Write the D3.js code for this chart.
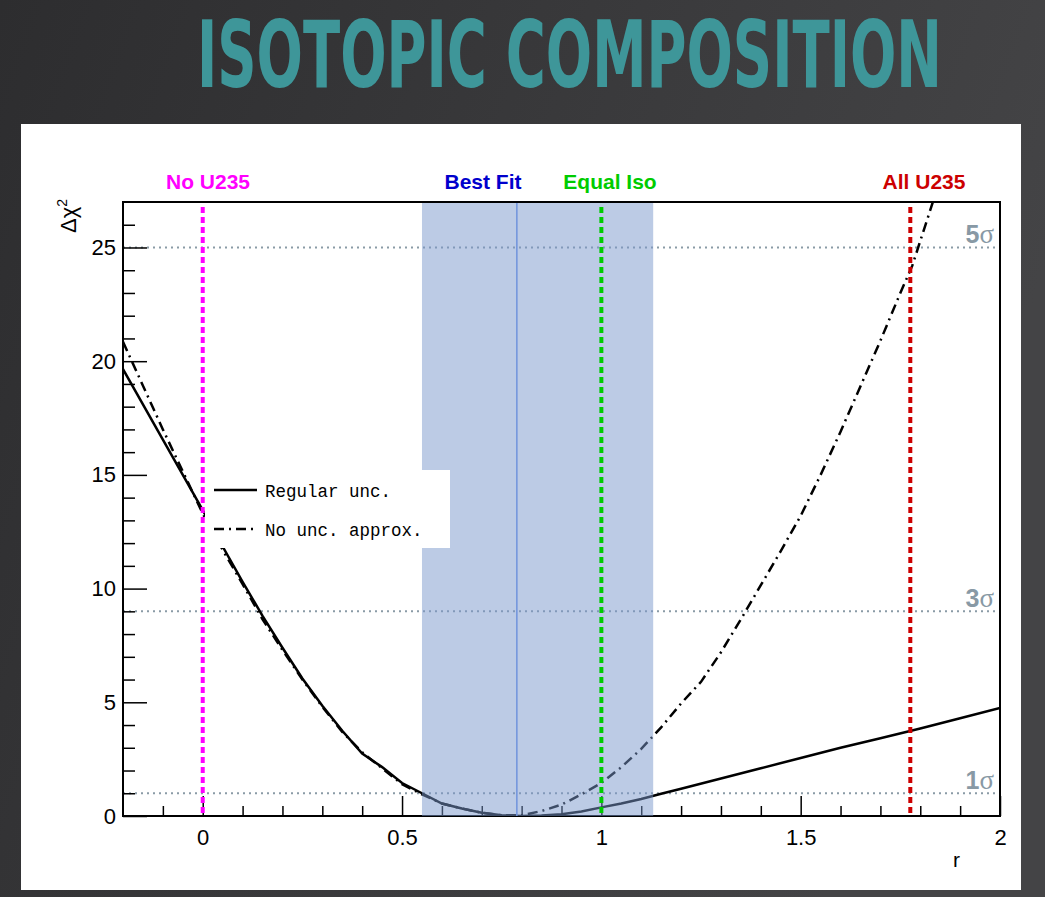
<!DOCTYPE html>
<html><head><meta charset="utf-8">
<script src="https://cdn.jsdelivr.net/npm/d3@7"></script>
<style>body{margin:0;background:#363638;overflow:hidden} svg{display:block}</style>
</head><body><svg id="c" width="1045" height="897"></svg>
<script>
// ---------------- data ----------------
const title = "ISOTOPIC COMPOSITION";
const regularR    = [-0.2,-0.1,0,0.05,0.1,0.15,0.2,0.25,0.3,0.35,0.4,0.45,0.5,0.55,0.6,0.65,0.7,0.75,0.8,0.85,0.9,0.95,1.0,1.05,1.1,1.15,1.2,1.3,1.4,1.5,1.6,1.7,1.8,1.9,2.0];
const regularChi2 = [19.65,16.55,13.45,11.85,10.3,8.8,7.4,6.05,4.85,3.75,2.75,2.15,1.45,1.0,0.55,0.33,0.14,0.03,0.0,0.02,0.08,0.2,0.38,0.55,0.75,0.98,1.2,1.65,2.1,2.55,3.0,3.42,3.85,4.3,4.75];
const noUncR    = [-0.2,-0.1,0,0.05,0.1,0.15,0.2,0.25,0.3,0.35,0.4,0.45,0.5,0.55,0.6,0.65,0.7,0.75,0.8,0.85,0.9,0.95,1.0,1.05,1.1,1.15,1.2,1.25,1.3,1.35,1.4,1.45,1.5,1.55,1.6,1.65,1.7,1.75,1.78,1.85];
const noUncChi2 = [20.85,17.0,13.3,11.7,10.2,8.65,7.3,6.0,4.8,3.7,2.8,2.1,1.4,0.95,0.55,0.33,0.14,0.03,0.03,0.22,0.5,0.95,1.45,2.15,2.95,3.9,4.95,5.9,7.2,8.65,10.15,11.65,13.2,15.0,16.9,18.9,20.9,23.0,24.2,28.0];
const xMajorTicks = [0, 0.5, 1, 1.5, 2];
const xMinorTicks = [-0.1,0.1,0.2,0.3,0.4,0.6,0.7,0.8,0.9,1.1,1.2,1.3,1.4,1.6,1.7,1.8,1.9];
const yMajorTicks = [0, 5, 10, 15, 20, 25];
const yMinorTicks = [1,2,3,4,6,7,8,9,11,12,13,14,16,17,18,19,21,22,23,24,26];
const sigmaLevels = [1, 9, 25];
const sigmaNames  = ["1", "3", "5"];
const markerNames  = ["No U235", "Best Fit", "Equal Iso", "All U235"];
const markerR      = [0, 0.788, 1, 1.775];
const markerColors = ["#ff00ff", "#0000cc", "#00cc00", "#cc0000"];
const bandRange = [0.55, 1.13];
const legendLabels = ["Regular unc.", "No unc. approx."];
const xDomain = [-0.2, 2];
const yDomain = [0, 27];

// ---------------- layout ----------------
const svg = d3.select("#c");
const W = 1045, H = 897;
const L = 123, R = 1000, T = 202, B = 816;
const x = d3.scaleLinear().domain(xDomain).range([L, R]);
const y = d3.scaleLinear().domain(yDomain).range([B, T]);
const sans = "'Liberation Sans', Arial, Helvetica, sans-serif";

const defs = svg.append("defs");
const grad = defs.append("linearGradient").attr("id","bg").attr("x1","0").attr("y1","0").attr("x2","1").attr("y2","0.3");
grad.append("stop").attr("offset","0").attr("stop-color","#2d2d2f");
grad.append("stop").attr("offset","1").attr("stop-color","#444446");
defs.append("clipPath").attr("id","plot").append("rect").attr("x",L).attr("y",T).attr("width",R-L).attr("height",B-T);

svg.append("rect").attr("width",W).attr("height",H).attr("fill","url(#bg)");
const tg = svg.append("g");
const tt = tg.append("text").attr("x",0).attr("y",0).attr("text-anchor","middle")
  .attr("font-family","'DejaVu Sans Condensed','DejaVu Sans',sans-serif").attr("font-weight","bold")
  .attr("font-size",93).attr("fill","#3e9699")
  .text(title);
const natW = tt.node().getComputedTextLength();
tg.attr("transform",`translate(569.5,87) scale(${745/natW},1)`);

// white panel
svg.append("rect").attr("x",21).attr("y",124).attr("width",1000).attr("height",766).attr("fill","#ffffff");

// sigma dotted lines
svg.append("g").selectAll("line").data(sigmaLevels).join("line")
  .attr("x1",L).attr("x2",R).attr("y1",d=>y(d)).attr("y2",d=>y(d))
  .attr("stroke","#8a9ba6").attr("stroke-width",2).attr("stroke-dasharray","2,4");

// axes ticks
const gx = svg.append("g").attr("transform",`translate(0,${B})`);
gx.call(d3.axisBottom(x).tickValues(xMajorTicks).tickSize(-20).tickPadding(8).tickFormat(d3.format("")));
const gxm = svg.append("g").attr("transform",`translate(0,${B})`);
gxm.call(d3.axisBottom(x).tickValues(xMinorTicks).tickSize(-10).tickFormat(""));
const gy = svg.append("g").attr("transform",`translate(${L},0)`);
gy.call(d3.axisLeft(y).tickValues(yMajorTicks).tickSize(-24).tickPadding(7));
const gym = svg.append("g").attr("transform",`translate(${L},0)`);
gym.call(d3.axisLeft(y).tickValues(yMinorTicks).tickSize(-12).tickFormat(""));
[gx,gxm,gy,gym].forEach(g=>{
  g.select(".domain").remove();
  g.selectAll(".tick line").attr("stroke","#000").attr("stroke-width",1.5);
  g.selectAll("text").attr("font-family",sans).attr("font-size",22).attr("fill","#000");
});
gx.selectAll("text").attr("dy","0.95em");
// frame
svg.append("rect").attr("x",L).attr("y",T).attr("width",R-L).attr("height",B-T)
  .attr("fill","none").attr("stroke","#000").attr("stroke-width",2);

// axis titles
svg.append("text").attr("x",960).attr("y",867).attr("text-anchor","end")
  .attr("font-family",sans).attr("font-size",21).text("r");
const yl = svg.append("text").attr("transform","translate(76,199) rotate(-90)").attr("text-anchor","end")
  .attr("font-family",sans).attr("font-size",22);
yl.append("tspan").text("Δχ");
yl.append("tspan").attr("font-size",14).attr("dy",-9).text("2");

// curves
const line = d3.line().x(d=>x(d[0])).y(d=>y(d[1]));
const cg = svg.append("g").attr("clip-path","url(#plot)");
cg.append("path").datum(noUncR.map((r,i)=>[r,noUncChi2[i]])).attr("d",line)
  .attr("fill","none").attr("stroke","#000").attr("stroke-width",2.5).attr("stroke-dasharray","10,5,2,5");
cg.append("path").datum(regularR.map((r,i)=>[r,regularChi2[i]])).attr("d",line)
  .attr("fill","none").attr("stroke","#000").attr("stroke-width",2.5);

// band
svg.append("rect").attr("x",x(bandRange[0])).attr("y",T+1).attr("width",x(bandRange[1])-x(bandRange[0])).attr("height",B-T-1)
  .attr("fill","rgb(122,152,204)").attr("fill-opacity",0.5);
// best-fit thin line
svg.append("line").attr("x1",x(markerR[1])).attr("x2",x(markerR[1])).attr("y1",T+1).attr("y2",B)
  .attr("stroke","#7093dc").attr("stroke-width",1.5);

// legend
svg.append("rect").attr("x",205).attr("y",470).attr("width",245).attr("height",78).attr("fill","#fff");
const lg = svg.append("g");
lg.append("line").attr("x1",214).attr("x2",257).attr("y1",490).attr("y2",490).attr("stroke","#000").attr("stroke-width",2.5);
lg.append("line").attr("x1",214).attr("x2",254).attr("y1",529).attr("y2",529).attr("stroke","#000").attr("stroke-width",2.5).attr("stroke-dasharray","10,5,2,5");
lg.selectAll("text").data(legendLabels).join("text")
  .attr("x",265).attr("y",(d,i)=>i===0?497:536)
  .attr("font-family","'Liberation Mono','Courier New',monospace").attr("font-size",17.5).attr("fill","#000")
  .text(d=>d);

// marker vertical dotted lines (not best-fit)
svg.append("g").selectAll("line").data([0,2,3]).join("line")
  .attr("x1",i=>x(markerR[i])).attr("x2",i=>x(markerR[i])).attr("y1",T+5).attr("y2",B)
  .attr("stroke",i=>markerColors[i]).attr("stroke-width",4).attr("stroke-dasharray","6,4");

// marker labels
const labelX = [208, 483, 610, 924];
svg.append("g").selectAll("text").data(markerNames).join("text")
  .attr("x",(d,i)=>labelX[i]).attr("y",189).attr("text-anchor","middle")
  .attr("font-family",sans).attr("font-weight","bold").attr("font-size",21)
  .attr("fill",(d,i)=>markerColors[i]).text(d=>d);

// sigma labels
const sg = svg.append("g").selectAll("text").data(sigmaLevels).join("text")
  .attr("x",994).attr("y",d=>y(d)-4).attr("text-anchor","end").attr("fill","#8899a5");
sg.append("tspan").attr("font-family",sans).attr("font-weight","bold").attr("font-size",25).text((d,i)=>sigmaNames[i]);
sg.append("tspan").attr("font-family","'Liberation Serif','Times New Roman',serif").attr("font-size",27).text("σ");
</script>
</body></html>
